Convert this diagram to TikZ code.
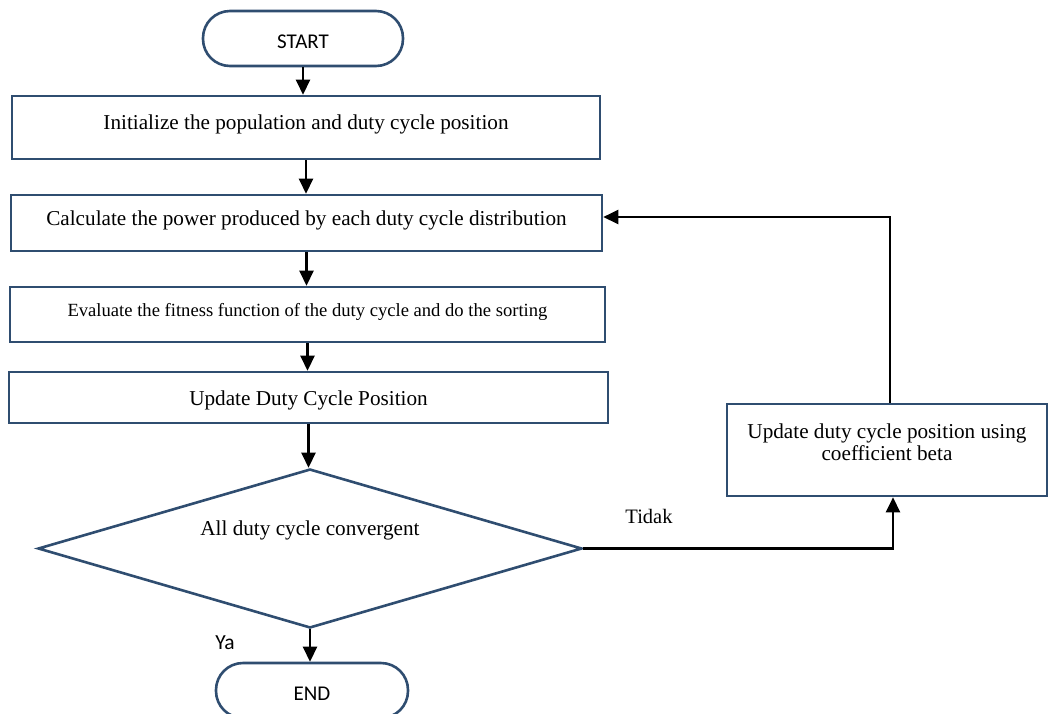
\documentclass[tikz,border=0pt]{standalone}
\usepackage{fontspec}
\setmainfont{Liberation Serif}
\newfontfamily\calibrifont{Carlito}
\usetikzlibrary{arrows.meta,shapes.geometric}
\definecolor{bordercol}{HTML}{2F4D70}
\newcommand{\raisetxt}[2]{\raisebox{#1}[\height][\depth]{#2}}
\begin{document}
\begin{tikzpicture}[x=1pt,y=-1pt,
  procbox/.style={draw=bordercol,line width=2.6pt,rectangle,inner sep=0pt,font=\fontsize{21.2}{22}\selectfont},
  termbox/.style={draw=bordercol,line width=2.6pt,rectangle,rounded corners=27pt,inner sep=0pt,font=\calibrifont\fontsize{21}{22}\selectfont},
  decbox/.style={draw=bordercol,line width=2.6pt,diamond,inner sep=0pt,font=\fontsize{21.2}{22}\selectfont},
  conn/.style={line width=2.5pt,-{Triangle[length=15pt,width=14pt]}},
  sanslabel/.style={font=\calibrifont\fontsize{21.5}{22}\selectfont},
  seriflabel/.style={font=\fontsize{20.5}{22}\selectfont}
]
\useasboundingbox (0,0) rectangle (1049,713);

\node[termbox, minimum width=200pt, minimum height=55pt] (start) at (303,38.5) {\raisetxt{-3pt}{START}};
\node[procbox, minimum width=588pt, minimum height=63pt] (b1) at (306,127.5)
  {\raisetxt{3pt}{Initialize the population and duty cycle position}};
\node[procbox, minimum width=591pt, minimum height=56pt] (b2) at (306.5,223)
  {\raisetxt{3pt}{Calculate the power produced by each duty cycle distribution}};
\node[procbox, minimum width=595pt, minimum height=55pt, font=\fontsize{18.6}{20}\selectfont] (b3) at (307.5,314.5)
  {\raisetxt{3pt}{Evaluate the fitness function of the duty cycle and do the sorting}};
\node[procbox, minimum width=599pt, minimum height=51pt] (b4) at (308.5,397.5)
  {\raisetxt{-3pt}{Update Duty Cycle Position}};
\node[decbox, aspect=3.42, minimum width=544pt, minimum height=159pt] (dec) at (310,548.5)
  {\raisetxt{18pt}{All duty cycle convergent}};
\node[termbox, minimum width=192pt, minimum height=55pt] (stop) at (312,690.5) {\raisetxt{-3pt}{END}};
\node[procbox, minimum width=320pt, minimum height=92pt, align=center] (side) at (887,450)
  {\raisetxt{5pt}{\begin{tabular}{@{}c@{}}Update duty cycle position using\\coefficient beta\end{tabular}}};

\node[sanslabel] (ya) at (225,643) {Ya};
\node[seriflabel] (tidak) at (649,516) {Tidak};

\draw[conn] (start.south) -- (start.south |- b1.north);
\draw[conn] (b1.south) -- (b1.south |- b2.north);
\draw[conn] (b2.south) -- (b2.south |- b3.north);
\draw[conn] (b3.south) -- (b3.south |- b4.north);
\draw[conn] (b4.south) -- (b4.south |- dec.north);
\draw[conn] (dec.south) -- (dec.south |- stop.north);
\draw[conn] (dec.east) -| ([xshift=6pt]side.south);
\draw[conn] ([xshift=3pt]side.north) |- ([yshift=6pt]b2.east);
\end{tikzpicture}
\end{document}
